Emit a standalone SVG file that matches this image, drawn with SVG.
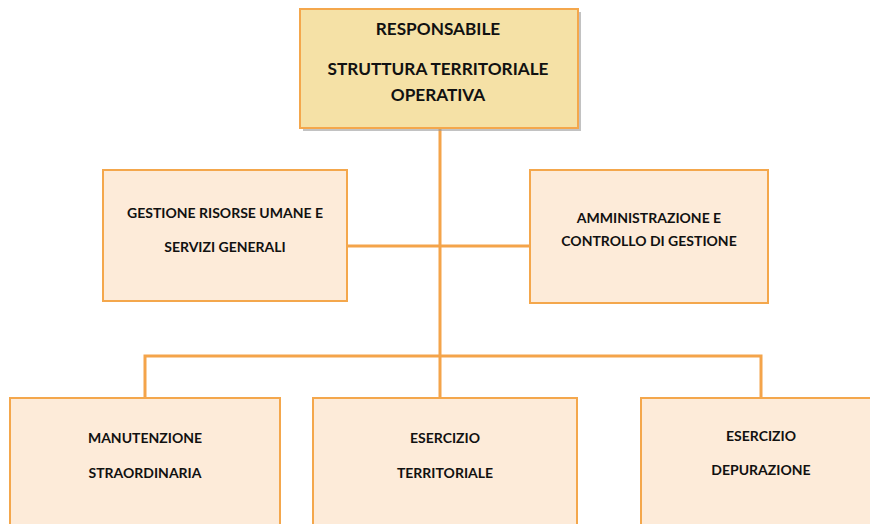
<svg xmlns="http://www.w3.org/2000/svg" width="870" height="524" viewBox="0 0 870 524">
<style>
.box{fill:#FDEBD9;stroke:#F4A74C;stroke-width:2}
.top{fill:#F5E1A6;stroke:#F4A74C;stroke-width:2}
.shadow{fill:#9a9a9a;opacity:0.6}
.conn{stroke:#F4A44A;stroke-width:3;fill:none}
text{font-family:Lato,"Liberation Sans",sans-serif;font-weight:bold;fill:#111;text-anchor:middle}
.t1{font-size:17.2px}
.t2{font-size:14px}
</style>
<rect width="870" height="524" fill="#fff"/>
<g id="connectors">
<path class="conn" d="M440 128 V398"/>
<path class="conn" d="M347 246 H530"/>
<path class="conn" d="M145 398 V356 H761 V398"/>
</g>
<g id="responsabile">
<rect class="shadow" x="303" y="12" width="278" height="119"/>
<rect class="top" x="300" y="9" width="278" height="119"/>
<text class="t1" x="438" y="35">RESPONSABILE</text>
<text class="t1" x="438" y="75">STRUTTURA TERRITORIALE</text>
<text class="t1" x="438" y="101">OPERATIVA</text>
</g>
<g id="gestione">
<rect class="box" x="103" y="170" width="244" height="131"/>
<text class="t2" x="225" y="218">GESTIONE RISORSE UMANE E</text>
<text class="t2" x="225" y="252">SERVIZI GENERALI</text>
</g>
<g id="amministrazione">
<rect class="box" x="530" y="170" width="238" height="133"/>
<text class="t2" x="649" y="223">AMMINISTRAZIONE E</text>
<text class="t2" x="649" y="246">CONTROLLO DI GESTIONE</text>
</g>
<g id="manutenzione">
<rect class="box" x="10" y="398" width="270" height="130"/>
<text class="t2" x="145" y="443">MANUTENZIONE</text>
<text class="t2" x="145" y="478">STRAORDINARIA</text>
</g>
<g id="territoriale">
<rect class="box" x="313" y="398" width="264" height="130"/>
<text class="t2" x="445" y="443">ESERCIZIO</text>
<text class="t2" x="445" y="478">TERRITORIALE</text>
</g>
<g id="depurazione">
<rect class="box" x="641" y="398" width="240" height="130"/>
<text class="t2" x="761" y="441">ESERCIZIO</text>
<text class="t2" x="761" y="475">DEPURAZIONE</text>
</g>
</svg>
